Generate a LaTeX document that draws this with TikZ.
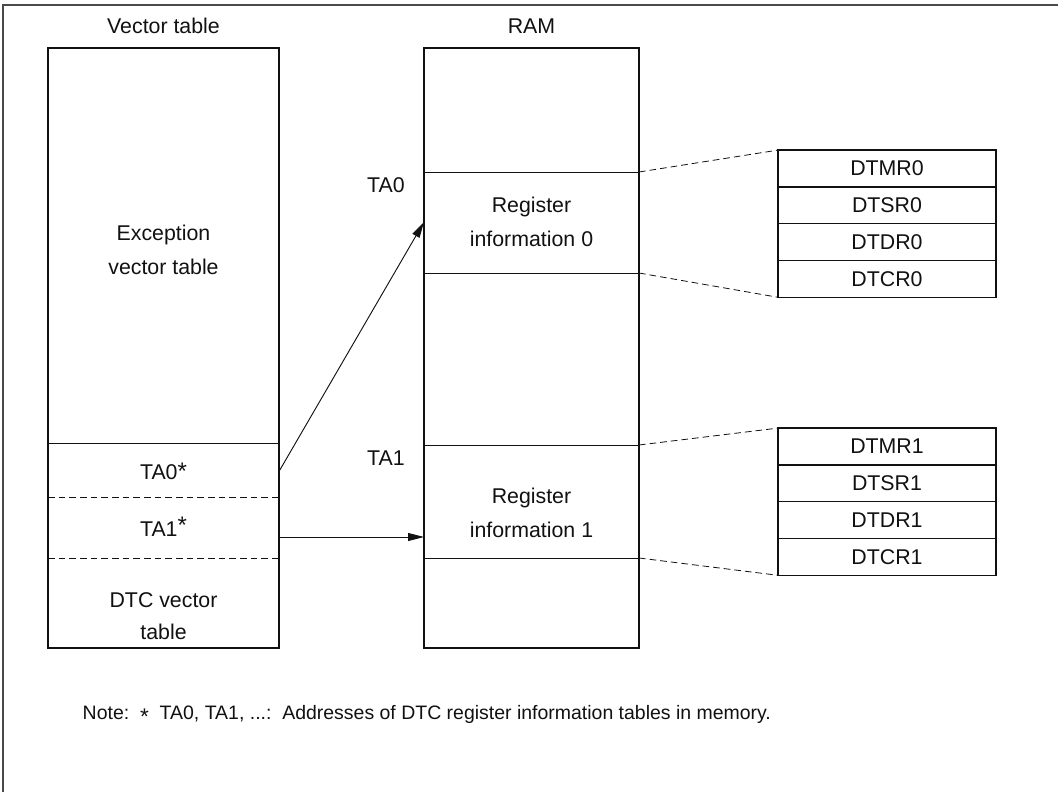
\documentclass[tikz,border=0pt]{standalone}
\usepackage{fontspec}
\setmainfont{Liberation Sans}
\usetikzlibrary{positioning,arrows.meta}
\definecolor{marco}{HTML}{4A4A4A}
\definecolor{tinta}{HTML}{111111}

\begin{document}
\begin{tikzpicture}[x=0.75pt, y=-0.75pt,
    every node/.style={font=\fontsize{16}{25.5}\selectfont, text=tinta},
    bloque/.style={draw=tinta, line width=1.1pt, outer sep=0pt,
                   minimum height=450pt},
    celda/.style={minimum width=173.25pt, minimum height=40pt},
    registro/.style={draw=tinta, line width=1.1pt, outer sep=0pt,
                     minimum width=163.5pt, minimum height=27.6pt, inner sep=0pt},
    guion/.style={tinta, line width=0.6pt, dash pattern=on 5pt off 3pt},
    flecha/.style={tinta, line width=0.7pt, -{Triangle[length=12pt,width=6pt]}}]

  \useasboundingbox (0,0) rectangle (1058,792);

  \def\XV{163.5}  % centro tabla de vectores
  \def\XR{531.5}  % centro RAM
  \def\YC{348}    % centro vertical de ambos bloques

  % ── Marco ─────────────────────────────────────────────────
  \draw[marco, line width=1.5pt] (3,792) -- (3,5) -- (1058,5);

  % ── Tabla de vectores ─────────────────────────────────────
  \node[bloque, minimum width=173.25pt] (vec) at (\XV,\YC) {};
  \node (tvec) at (\XV,26) {Vector table};
  \draw[tinta, line width=0.7pt] (48,443) -- (279,443);
  \draw[guion] (48,497) -- (279,497);
  \draw[guion] (48,558) -- (279,558);
  \node[align=center] (exc) at (\XV,250) {Exception\\vector table};
  \node[celda] (ta0) at (\XV,471) {TA0{\fontsize{18}{18}\selectfont *}};
  \node[celda] (ta1) at (\XV,527) {TA1\raisebox{2pt}{\fontsize{18}{18}\selectfont *}};
  \node[align=center, font=\fontsize{16}{24}\selectfont] (dtcv) at (\XV,616) {DTC vector\\table};

  % ── RAM ───────────────────────────────────────────────────
  \node[bloque, minimum width=161.25pt] (ram) at (\XR,\YC) {};
  \node (tram) at (\XR,26) {RAM};
  \coordinate (r0top) at (639,172);
  \coordinate (r0bot) at (639,273);
  \coordinate (r1top) at (639,445);
  \coordinate (r1bot) at (639,558);
  \foreach \c in {r0top,r0bot,r1top,r1bot}
    \draw[tinta, line width=0.7pt] (ram.west |- \c) -- (\c);
  \node (dir0) at (386,185) {TA0};
  \node (dir1) at (386,458) {TA1};
  \node[align=center] (inf0) at (\XR,222) {Register\\information 0};
  \node[align=center] (inf1) at (\XR,513) {Register\\information 1};

  % ── Registros DTC ─────────────────────────────────────────
  \node[registro] (dtmr0) at (887,168.5) {DTMR0};
  \node[registro, below=0pt of dtmr0] (dtsr0) {DTSR0};
  \node[registro, below=0pt of dtsr0] (dtdr0) {DTDR0};
  \node[registro, below=0pt of dtdr0] (dtcr0) {DTCR0};

  \node[registro] (dtmr1) at (887,446.5) {DTMR1};
  \node[registro, below=0pt of dtmr1] (dtsr1) {DTSR1};
  \node[registro, below=0pt of dtsr1] (dtdr1) {DTDR1};
  \node[registro, below=0pt of dtdr1] (dtcr1) {DTCR1};

  \draw[guion] (r0top) -- (dtmr0.north west);
  \draw[guion] (r0bot) -- (dtcr0.south west);
  \draw[guion] (r1top) -- (dtmr1.north west);
  \draw[guion] (r1bot) -- (dtcr1.south west);

  % ── Flechas ───────────────────────────────────────────────
  \coordinate (ri0) at (424,222);
  \coordinate (sal1) at (279,537);
  \draw[flecha] (ta0.east) -- (ri0);
  \draw[flecha] (sal1) -- (ram.west |- sal1);

  % ── Nota ──────────────────────────────────────────────────
  \node[anchor=west, font=\fontsize{14.6}{18}\selectfont] (nota) at (78,715)
    {Note:\ \ \raisebox{-3.5pt}{\fontsize{17}{17}\selectfont *}\ \ TA0, TA1, ...:\ \ Addresses of DTC register information tables in memory.};

\end{tikzpicture}
\end{document}
